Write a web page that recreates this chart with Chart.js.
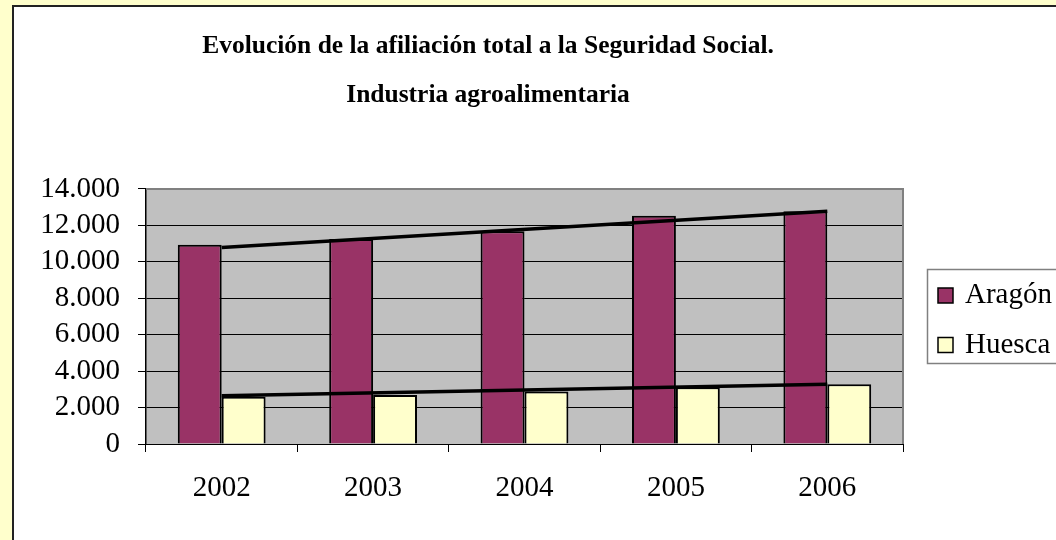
<!DOCTYPE html>
<html>
<head>
<meta charset="utf-8">
<script src="https://cdn.jsdelivr.net/npm/chart.js@4.4.0/dist/chart.umd.min.js"></script>
<style>
  html, body { margin: 0; padding: 0; }
  body { width: 1056px; height: 540px; overflow: hidden; background: #FFFFCC; position: relative; }
  #frame { position: absolute; left: 12px; top: 5px; width: 1100px; height: 600px; border: 2px solid #222; background: #FFFFFF; }
  #c { position: absolute; left: 0; top: 0; }
</style>
</head>
<body>
<div id="frame"></div>
<canvas id="c" width="1056" height="540"></canvas>
<script>
const titleLines = ['Evolución de la afiliación total a la Seguridad Social.', 'Industria agroalimentaria'];
const years = ['2002', '2003', '2004', '2005', '2006'];
const aragon = [10940, 11250, 11670, 12530, 12770];
const huesca = [2600, 2690, 2875, 3117, 3282];
const aragonTrend = [10790, null, null, null, 12770];
const huescaTrend = [2655, null, null, null, 3282];
const yTickLabels = ['0', '2.000', '4.000', '6.000', '8.000', '10.000', '12.000', '14.000'];

const FONT = "'Liberation Serif', 'Times New Roman', serif";

const plotBg = {
  id: 'plotBg',
  beforeDraw(chart) {
    const {ctx, chartArea: a} = chart;
    ctx.save();
    ctx.fillStyle = '#C0C0C0';
    ctx.fillRect(a.left, a.top, a.right - a.left, a.bottom - a.top);
    ctx.restore();
  },
  beforeDatasetsDraw(chart) {
    const {ctx, chartArea: a} = chart;
    ctx.save();
    ctx.strokeStyle = '#808080';
    ctx.lineWidth = 2;
    ctx.beginPath();
    ctx.moveTo(a.left, a.top);
    ctx.lineTo(a.right, a.top);
    ctx.lineTo(a.right, a.bottom);
    ctx.stroke();
    ctx.restore();
  }
};

const boxLegend = {
  id: 'boxLegend',
  afterDraw(chart) {
    const ctx = chart.ctx;
    const items = chart.data.datasets.filter(d => d.type === 'bar');
    ctx.save();
    ctx.strokeStyle = '#808080';
    ctx.lineWidth = 1.5;
    ctx.strokeRect(927.5, 269.5, 200, 94);
    ctx.font = '29px ' + FONT;
    ctx.textBaseline = 'middle';
    ctx.textAlign = 'left';
    items.forEach((d, i) => {
      const cy = 295.5 + i * 49.5;
      ctx.fillStyle = d.backgroundColor;
      ctx.fillRect(938, cy - 7.5, 15, 15);
      ctx.strokeStyle = '#000';
      ctx.lineWidth = 1.5;
      ctx.strokeRect(938, cy - 7.5, 15, 15);
      ctx.fillStyle = '#000';
      ctx.fillText(d.label, 965, cy);
    });
    ctx.restore();
  }
};

new Chart(document.getElementById('c'), {
  data: {
    labels: years,
    datasets: [
      { type: 'line', label: 'Tendencia Aragón', data: aragonTrend, borderColor: '#000', borderWidth: 3.5, pointRadius: 0, spanGaps: true, order: 0, yAxisID: 'y' },
      { type: 'line', label: 'Tendencia Huesca', data: huescaTrend, borderColor: '#000', borderWidth: 3.5, pointRadius: 0, spanGaps: true, order: 0, yAxisID: 'y' },
      { type: 'bar', label: 'Aragón', data: aragon, backgroundColor: '#993366', borderColor: '#000', borderWidth: 2, order: 1, yAxisID: 'y' },
      { type: 'bar', label: 'Huesca', data: huesca, backgroundColor: '#FFFFCC', borderColor: '#000', borderWidth: 2, order: 1, yAxisID: 'y' }
    ]
  },
  options: {
    responsive: false,
    animation: false,
    devicePixelRatio: 1,
    layout: { padding: { left: 12, right: 92, top: 0, bottom: 0 } },
    datasets: { bar: { barPercentage: 1, categoryPercentage: 0.58 } },
    plugins: {
      legend: { display: false },
      tooltip: { enabled: false },
      title: {
        display: true,
        text: titleLines,
        color: '#000',
        font: { family: FONT, size: 25.5, weight: 'bold', lineHeight: 1.92 },
        padding: { top: 22, bottom: 69 }
      }
    },
    scales: {
      x: {
        offset: true,
        grid: { display: true, drawOnChartArea: false, drawTicks: true, tickLength: 8, color: '#000', offset: true },
        border: { display: true, color: '#000', width: 1 },
        ticks: { color: '#000', font: { family: FONT, size: 29 }, padding: 19, maxRotation: 0 },
        afterFit(s) { s.height = 96; }
      },
      y: {
        min: 0, max: 14000,
        ticks: {
          stepSize: 2000, autoSkip: false, color: '#000', font: { family: FONT, size: 29 }, padding: 18,
          callback: (v, i) => yTickLabels[i]
        },
        grid: {
          color: (c) => (c.tick && c.tick.value === 14000) ? '#808080' : '#000',
          tickColor: '#000', lineWidth: 1, tickLength: 8
        },
        border: { display: true, color: '#000', width: 1.5 },
        afterFit(s) { s.width = 134; }
      },
      yR: {
        type: 'linear', position: 'right', display: true,
        grid: { display: false }, border: { display: false }, ticks: { display: false },
        afterFit(s) { s.width = 61; }
      }
    }
  },
  plugins: [plotBg, boxLegend]
});
</script>
</body>
</html>
